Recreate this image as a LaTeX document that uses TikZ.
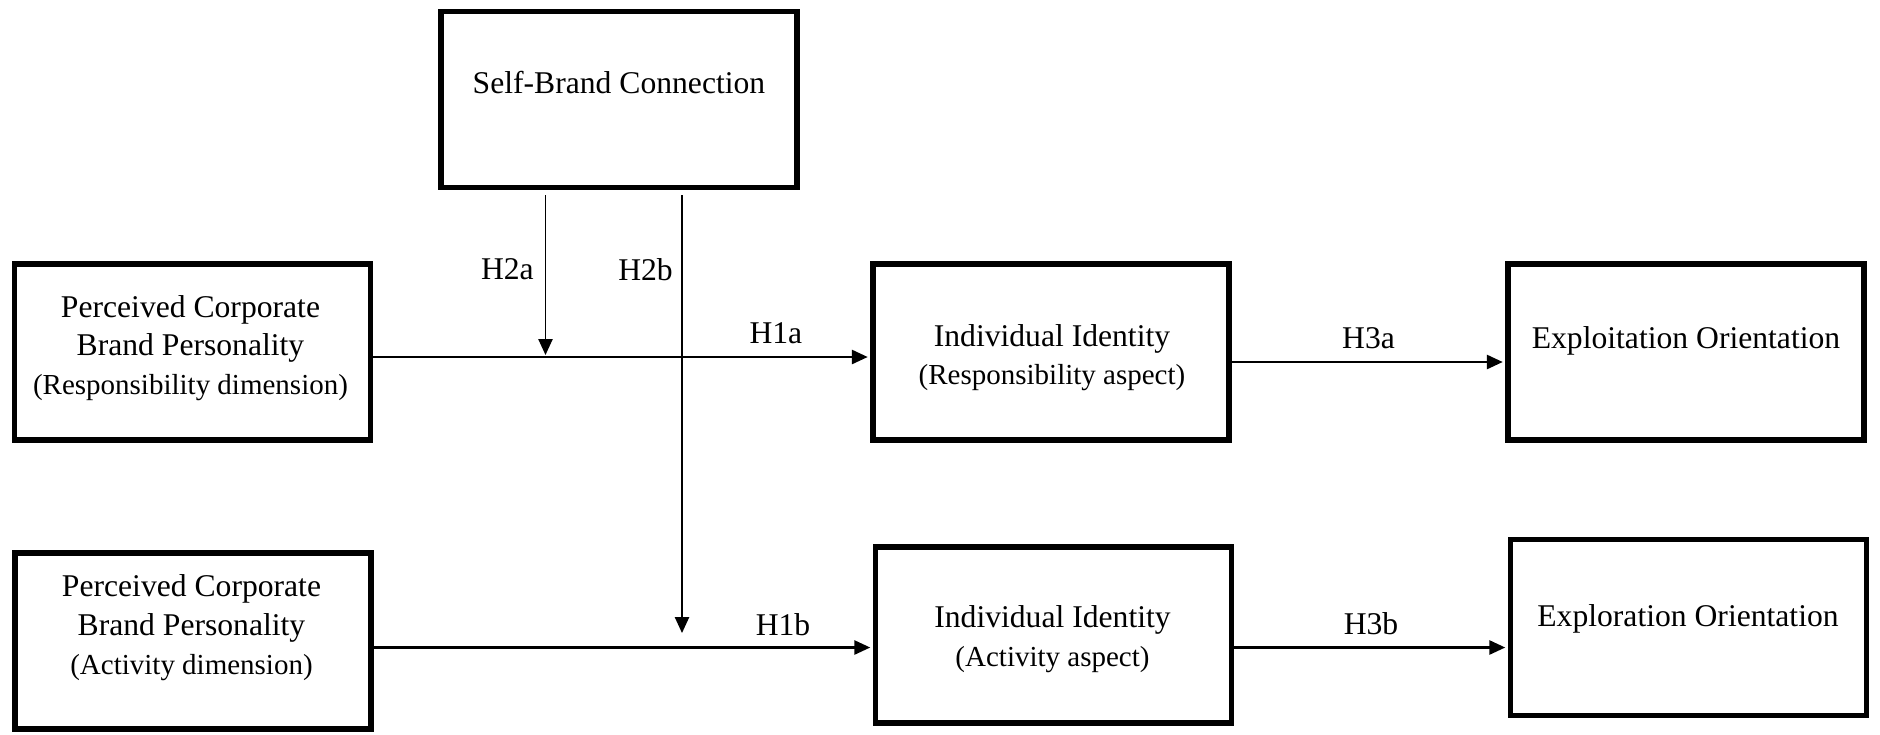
\documentclass[tikz,border=0pt]{standalone}
\usepackage{fontspec}
\setmainfont{Liberation Serif}
\usepackage{tikz}
\usetikzlibrary{arrows.meta, positioning, calc}

\newcommand{\sub}[1]{{\fontsize{16.5}{22}\selectfont #1}}

\begin{document}
\begin{tikzpicture}[
    box/.style={rectangle, draw, line width=3pt, minimum width=7.12cm, minimum height=3.52cm, inner sep=0pt},
    boxtext/.style={align=center, font=\fontsize{18}{22}\selectfont},
    hyp/.style={font=\fontsize{18}{22}\selectfont},
    path/.style={draw, line width=1.3pt, -{Triangle[length=9pt, width=8pt]}, shorten >=1.5pt}]

    \useasboundingbox (0,0) rectangle (37.6,-14.68);

    % constructs
    \node [box] (sbc) at (12.38,-1.99) {};
    \node [box] (pcbpR) at (3.85,-7.04) {};
    \node [box] (iiR) at (21.02,-7.04) {};
    \node [box] (exploit) at (33.72,-7.04) {};
    \node [box] (pcbpA) at (3.86,-12.82) {};
    \node [box] (iiA) at (21.07,-12.70) {};
    \node [box] (explor) at (33.77,-12.55) {};

    \node [boxtext] (sbc-txt) at (12.38,-1.66) {Self-Brand Connection};
    \node [boxtext] (pcbpR-txt) at (3.81,-6.96) {Perceived Corporate\\Brand Personality\\\sub{(Responsibility dimension)}};
    \node [boxtext] (iiR-txt) at (21.04,-7.15) {Individual Identity\\\sub{(Responsibility aspect)}};
    \node [boxtext] (exploit-txt) at (33.72,-6.81) {Exploitation Orientation};
    \node [boxtext] (pcbpA-txt) at (3.83,-12.55) {Perceived Corporate\\Brand Personality\\\sub{(Activity dimension)}};
    \node [boxtext] (iiA-txt) at (21.05,-12.78) {Individual Identity\\\sub{(Activity aspect)}};
    \node [boxtext] (explor-txt) at (33.76,-12.37) {Exploration Orientation};

    % moderation ends
    \coordinate (h2a) at (10.91,-7.10);
    \coordinate (h2b) at (13.64,-12.66);

    % paths
    \draw [path] ([yshift=-0.1cm]pcbpR.east) -- node[hyp, above, pos=0.81, yshift=0.13cm] (h1a-lbl) {H1a} ([yshift=-0.1cm]iiR.west);
    \draw [path] ([yshift=-0.2cm]iiR.east) -- node[hyp, above, yshift=0.13cm] (h3a-lbl) {H3a} ([yshift=-0.2cm]exploit.west);
    \draw [path] ([yshift=-0.25cm]iiA.west -| pcbpA.east) -- node[hyp, above, pos=0.82, yshift=0.1cm] (h1b-lbl) {H1b} ([yshift=-0.25cm]iiA.west);
    \draw [path] ([yshift=-0.25cm]iiA.east) -- node[hyp, above, yshift=0.12cm] (h3b-lbl) {H3b} ([yshift=-0.25cm]iiA.east -| explor.west);
    \draw [path, line width=1pt, shorten <=3pt, shorten >=0pt] (sbc.south -| h2a) -- node[hyp, left, pos=0.48, xshift=-0.1cm] (h2a-lbl) {H2a} (h2a);
    \draw [path, line width=1pt, shorten <=3pt, shorten >=0pt] (sbc.south -| h2b) -- node[hyp, left, pos=0.18, xshift=-0.05cm] (h2b-lbl) {H2b} (h2b);
\end{tikzpicture}
\end{document}
